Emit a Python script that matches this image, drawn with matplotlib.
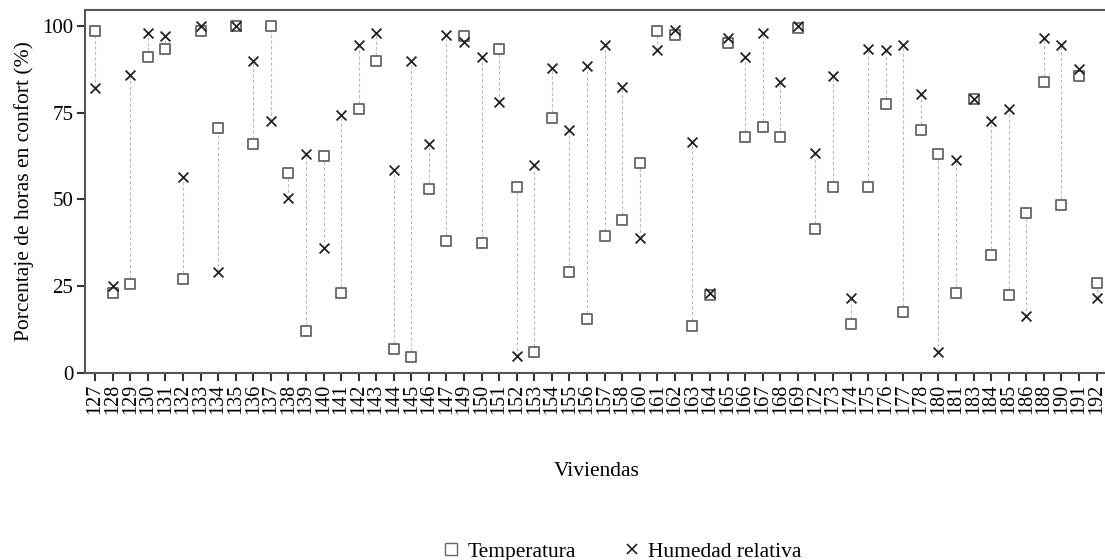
import numpy as np
import matplotlib
matplotlib.use("Agg")
import matplotlib.pyplot as plt
from matplotlib.lines import Line2D

plt.rcParams['font.family'] = ['Liberation Serif', 'DejaVu Serif']

viviendas = [127, 128, 129, 130, 131, 132, 133, 134, 135, 136, 137, 138, 139, 140,
             141, 142, 143, 144, 145, 146, 147, 149, 150, 151, 152, 153, 154, 155,
             156, 157, 158, 160, 161, 162, 163, 164, 165, 166, 167, 168, 169, 172,
             173, 174, 175, 176, 177, 178, 180, 181, 183, 184, 185, 186, 188, 190,
             191, 192]

temperatura = [98.5, 23, 25.5, 91, 93.5, 27, 98.5, 70.5, 100, 66, 100, 57.5, 12, 62.5,
               23, 76, 90, 7, 4.5, 53, 38, 97, 37.5, 93.5, 53.5, 6, 73.5, 29,
               15.5, 39.5, 44, 60.5, 98.5, 97.5, 13.5, 22.5, 95, 68, 71, 68, 99.5, 41.5,
               53.5, 14, 53.5, 77.5, 17.5, 70, 63, 23, 79, 34, 22.5, 46, 84, 48.5,
               85.5, 26]

humedad = [82, 25, 86, 98, 97, 56.5, 100, 29, 100, 90, 72.5, 50.5, 63, 36,
           74.5, 94.5, 98, 58.5, 90, 66, 97.5, 95.5, 91, 78, 5, 60, 88, 70,
           88.5, 94.5, 82.5, 39, 93, 99, 66.5, 23, 96.5, 91, 98, 84, 100, 63.5,
           85.5, 21.5, 93.5, 93, 94.5, 80.5, 6, 61.5, 79, 72.5, 76, 16.5, 96.5, 94.5,
           87.5, 21.5]

x = np.arange(len(viviendas))

fig = plt.figure(figsize=(11.05, 5.6), dpi=100)
ax = fig.add_axes([0.077, 0.334, 0.923, 0.648])

ax.vlines(x, np.minimum(temperatura, humedad), np.maximum(temperatura, humedad),
          colors='#bbbbbb', linestyles=(0, (3, 2)), linewidth=0.8, zorder=1)
ax.scatter(x, temperatura, marker='s', s=55, facecolors='white',
           edgecolors='#666666', linewidths=1.3, zorder=2)
ax.scatter(x, humedad, marker='x', s=50, color='#222222', linewidths=1.3, zorder=3)

ax.set_xlim(-0.57, 57.48)
ax.set_ylim(0, 104.6)
ax.set_xticks(x)
ax.set_xticklabels([str(v) for v in viviendas], rotation=90, fontsize=14.5)
ax.set_yticks([0, 25, 50, 75, 100])
ax.tick_params(axis='y', labelsize=15, length=5.5, width=1.5, color='#333333', pad=3)
ax.tick_params(axis='x', length=5.5, width=1.5, color='#333333', pad=2)

for s in ['left', 'bottom', 'top']:
    ax.spines[s].set_color('#555555')
    ax.spines[s].set_linewidth(1.5)
ax.spines['right'].set_visible(False)

ax.set_xlabel('Viviendas', fontsize=15.5)
ax.xaxis.set_label_coords(0.502, -0.272)
ax.xaxis.label.set_va('center')
ax.set_ylabel('Porcentaje de horas en confort (%)', fontsize=15.5)
ax.yaxis.set_label_coords(-0.05, 0.5)

handles = [Line2D([], [], marker='s', linestyle='none', markersize=8,
                  markerfacecolor='white', markeredgecolor='#666666', markeredgewidth=1.0),
           Line2D([], [], marker='x', linestyle='none', markersize=7,
                  color='#222222', markeredgewidth=1.2)]
fig.legend(handles, ['Temperatura', 'Humedad relativa'], loc='center',
           bbox_to_anchor=(0.563, 0.015), ncol=2, frameon=False, fontsize=15.5,
           handlelength=0.8, handletextpad=0.35, columnspacing=2.2,
           borderaxespad=0, borderpad=0)

fig.savefig('out.png', dpi=100)
